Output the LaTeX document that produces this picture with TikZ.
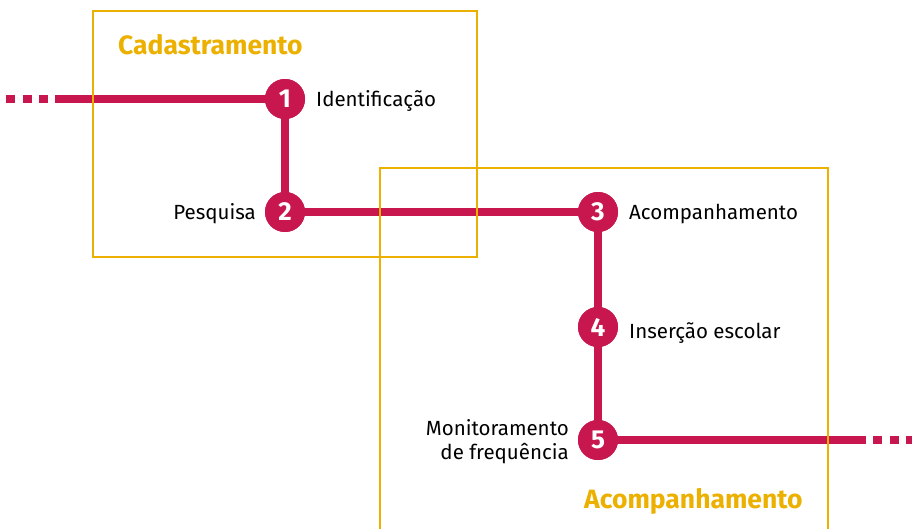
\documentclass[tikz,border=0pt]{standalone}
\usepackage{fontspec}
\setmainfont{Fira Sans}
\definecolor{mag}{HTML}{C8174F}
\definecolor{gold}{HTML}{EBB000}
\begin{document}
\begin{tikzpicture}[x=1pt,y=-1pt,
  track/.style={draw=mag,line width=8pt},
  dots/.style={draw=mag,line width=8pt,dash pattern=on 9pt off 7.5pt},
  stop/.style={circle,fill=mag,minimum size=40pt,inner sep=0pt,text=white,font=\bfseries\fontsize{26}{26}\selectfont},
  lbl/.style={font=\fontsize{20.5}{24}\selectfont,inner sep=0pt},
  title/.style={font=\bfseries\fontsize{26.5}{30}\selectfont,text=gold,inner sep=0pt,anchor=base west},
  frame/.style={draw=gold,line width=2pt}]
\useasboundingbox (0,0) rectangle (912,528);
\coordinate (ls) at (55,99);
\coordinate (re) at (866,440);
\node[stop] (n1) at (285,99) {1};
\node[stop] (n2) at (285,212) {2};
\node[stop] (n3) at (598,212) {3};
\node[stop] (n4) at (598,327) {4};
\node[stop] (n5) at (598,440) {5};
\draw[track] (ls) -- (n1.center) -- (n2.center) -- (n3.center) -- (n4.center) -- (n5.center) -- (re);
\draw[dots] (6,99) -- (48,99);
\draw[dots] (873,440) -- (912,440);
\node[stop] at (n1) {1};
\node[stop] at (n2) {2};
\node[stop] at (n3) {3};
\node[stop] at (n4) {4};
\node[stop] at (n5) {5};
\node[lbl,anchor=base west] (t1) at (316,106) {Identificação};
\node[lbl,anchor=base east] (t2) at (256,219) {Pesquisa};
\node[lbl,anchor=base west] (t3) at (629,219) {Acompanhamento};
\node[lbl,anchor=base west] (t4) at (629,338) {Inserção escolar};
\node[lbl,anchor=east,align=right] (t5) at (569,442) {Monitoramento\\de frequência};
\draw[frame] (93,11) rectangle (477,257);
\draw[frame] (380,530) -- (380,168) -- (828,168) -- (828,530);
\node[title] (c1) at (118,54) {Cadastramento};
\node[title] (c2) at (584,508) {Acompanhamento};
\end{tikzpicture}
\end{document}
